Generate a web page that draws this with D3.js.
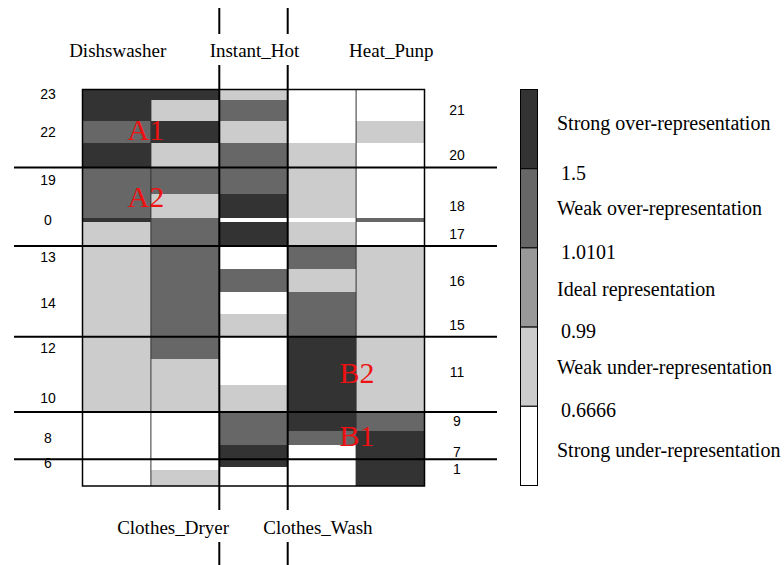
<!DOCTYPE html>
<html>
<head>
<meta charset="utf-8">
<script src="https://cdn.jsdelivr.net/npm/d3@7"></script>
<style>
  body { margin: 0; background: #fff; }
  svg { display: block; }
</style>
</head>
<body>
<div id="chart"></div>
<script>
// appliances (columns) and hour rows, top to bottom
const appliances = ["Dishswasher", "Clothes_Dryer", "Instant_Hot", "Clothes_Wash", "Heat_Punp"]
const hours = ["23", "21", "22", "20", "19", "18", "0", "17", "13", "16", "14", "15", "12", "11", "10", "9", "8", "7", "6", "1", ""]
const rowWeights = [10, 21.7, 21.7, 24.6, 26, 24, 4.4, 24, 23, 23.3, 21.7, 22.7, 22.3, 26, 26.7, 19.3, 14, 14, 7.7, 3.3, 15.7]
const clusterSizes = [4, 4, 4, 3, 3, 3]

// representation class per hour row: 0 strong under .. 4 strong over
const dishwasher = [4, 4, 3, 4, 3, 3, 4, 1, 1, 1, 1, 1, 1, 1, 1, 0, 0, 0, 0, 0, 0]
const clothesDryer = [4, 1, 4, 1, 3, 1, 3, 3, 3, 3, 3, 3, 3, 1, 1, 0, 0, 0, 0, 0, 1]
const instantHot = [1, 3, 1, 3, 3, 4, 0, 4, 0, 3, 0, 1, 0, 0, 1, 3, 3, 4, 4, 0, 0]
const clothesWash = [0, 0, 0, 1, 1, 1, 0, 1, 3, 1, 3, 3, 4, 4, 4, 4, 3, 0, 0, 0, 0]
const heatPump = [0, 0, 1, 0, 0, 0, 3, 0, 1, 1, 1, 1, 1, 1, 1, 3, 4, 4, 4, 4, 4]

const legendLabels = ["Strong over-representation", "Weak over-representation", "Ideal representation", "Weak under-representation", "Strong under-representation"]
const thresholds = ["1.5", "1.0101", "0.99", "0.6666"]
const greys = ["#ffffff", "#cccccc", "#999999", "#676767", "#333333"]

// red annotations: row index plus position inside the row
const marks = [
    { text: "A1", col: "Dishswasher", row: 2, at: 0.4 },
    { text: "A2", col: "Dishswasher", row: 5, at: 0.1 },
    { text: "B2", col: "Clothes_Wash", row: 13, at: 0.5 },
    { text: "B1", col: "Clothes_Wash", row: 16, at: 0.3 }
]

const width = 784
const height = 565

const svg = d3.select("#chart").append("svg")
    .attr("width", width)
    .attr("height", height)

const x = d3.scaleBand()
    .domain(appliances)
    .range([82.5, 424.5])

// cumulative row offsets
const starts = []
let acc = 0
rowWeights.forEach(w => { starts.push(acc); acc += w })
const total = acc

const y = d3.scaleLinear()
    .domain([0, total])
    .range([89.5, 486])

const fill = d3.scaleOrdinal().domain([0, 1, 2, 3, 4]).range(greys)

const columns = [dishwasher, clothesDryer, instantHot, clothesWash, heatPump]
const cells = []
columns.forEach((vals, c) => {
    vals.forEach((v, r) => {
        cells.push({ col: appliances[c], row: r, value: v })
    })
})

svg.append("g")
    .selectAll("rect")
    .data(cells)
    .join("rect")
    .attr("x", d => x(d.col))
    .attr("y", d => y(starts[d.row]))
    .attr("width", x.bandwidth())
    .attr("height", d => y(starts[d.row] + rowWeights[d.row]) - y(starts[d.row]))
    .attr("fill", d => fill(d.value))
    .attr("shape-rendering", "crispEdges")

// thin column dividers
svg.append("g")
    .selectAll("line")
    .data(["Clothes_Dryer", "Heat_Punp"])
    .join("line")
    .attr("x1", d => x(d)).attr("x2", d => x(d))
    .attr("y1", y(0)).attr("y2", y(total))
    .attr("stroke", "#333")
    .attr("stroke-width", 1)

// outer frame
svg.append("rect")
    .attr("x", x.range()[0])
    .attr("y", y(0))
    .attr("width", x.range()[1] - x.range()[0])
    .attr("height", y(total) - y(0))
    .attr("fill", "none")
    .attr("stroke", "#000")
    .attr("stroke-width", 1.5)

// cluster separators
const cuts = d3.cumsum(clusterSizes).slice(0, -1)
svg.append("g")
    .selectAll("line")
    .data(cuts)
    .join("line")
    .attr("x1", 14).attr("x2", 497)
    .attr("y1", d => y(starts[d])).attr("y2", d => y(starts[d]))
    .attr("stroke", "#000")
    .attr("stroke-width", 2)

// long vertical lines around the middle column
const vx = [x("Instant_Hot"), x("Clothes_Wash")]
const segs = [[8, 34], [65, 510], [542, 565]]
vx.forEach(xv => {
    svg.append("g")
        .selectAll("line")
        .data(segs)
        .join("line")
        .attr("x1", xv).attr("x2", xv)
        .attr("y1", d => d[0]).attr("y2", d => d[1])
        .attr("stroke", "#000")
        .attr("stroke-width", 2)
})

// hour labels, alternating left / right
svg.append("g")
    .selectAll("text")
    .data(hours)
    .join("text")
    .attr("x", (d, i) => i % 2 == 0 ? 48 : 457)
    .attr("y", (d, i) => y(starts[i] + rowWeights[i] / 2))
    .attr("dy", "0.35em")
    .attr("text-anchor", "middle")
    .style("font-family", "Liberation Sans, Arial, sans-serif")
    .style("font-size", "14px")
    .text(d => d)

// appliance names, top and bottom
const serif = "Liberation Serif, Times New Roman, serif"
svg.append("g")
    .selectAll("text")
    .data(appliances)
    .join("text")
    .attr("x", (d, i) => x(d) + x.bandwidth() / 2 + (i == 1 ? -12 : i == 3 ? -4 : 1))
    .attr("y", (d, i) => i % 2 == 0 ? 57 : 534)
    .attr("text-anchor", "middle")
    .style("font-family", serif)
    .style("font-size", "19px")
    .text(d => d)

// red annotations
svg.append("g")
    .selectAll("text")
    .data(marks)
    .join("text")
    .attr("x", d => x(d.col) + x.bandwidth() + (d.text[0] == "A" ? -5 : 1))
    .attr("y", d => y(starts[d.row] + rowWeights[d.row] * d.at))
    .attr("dy", "0.35em")
    .attr("text-anchor", "middle")
    .attr("fill", "#ee1111")
    .style("font-family", serif)
    .style("font-size", "30px")
    .text(d => d.text)

// legend colour bar
const ly = d3.scaleBand()
    .domain([4, 3, 2, 1, 0])
    .range([89.5, 485.5])

const legend = svg.append("g")

legend.selectAll("rect")
    .data(ly.domain())
    .join("rect")
    .attr("x", 520.5)
    .attr("y", d => ly(d))
    .attr("width", 17)
    .attr("height", ly.bandwidth())
    .attr("fill", d => fill(d))
    .attr("stroke", "#000")
    .attr("stroke-width", 1)

legend.selectAll("text.cat")
    .data(legendLabels)
    .join("text")
    .attr("class", "cat")
    .attr("x", 557)
    .attr("y", (d, i) => ly(4 - i) + ly.bandwidth() / 2 + (i == 0 ? -6 : i == 4 ? 4 : i == 2 ? 1 : 0))
    .attr("dy", "0.35em")
    .style("font-family", serif)
    .style("font-size", "20px")
    .text(d => d)

legend.selectAll("text.thr")
    .data(thresholds)
    .join("text")
    .attr("class", "thr")
    .attr("x", 561)
    .attr("y", (d, i) => ly(3 - i) + 4)
    .attr("dy", "0.35em")
    .style("font-family", serif)
    .style("font-size", "20px")
    .text(d => d)
</script>
</body>
</html>
